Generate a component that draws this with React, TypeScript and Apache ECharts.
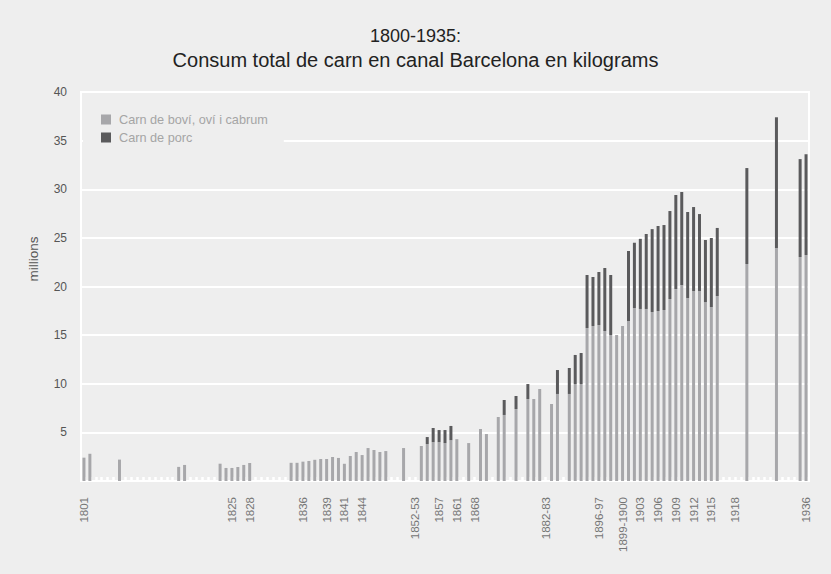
import React, { useEffect, useRef } from "react";
import * as echarts from "echarts";

const N = null;

// One category per bar slot; only some slots carry a label in the original.
const categories: string[] = [
  "1801", "", "", "", "", "", "", "", "", "",
  "", "", "", "", "", "", "", "", "", "",
  "", "", "", "", "", "1825", "", "", "1828", "",
  "", "", "", "", "", "", "", "1836", "", "",
  "", "1839", "", "", "1841", "", "", "1844", "", "",
  "", "", "", "", "", "", "1852-53", "", "", "",
  "1857", "", "", "1861", "", "", "1868", "", "", "",
  "", "", "", "", "", "", "", "", "1882-83", "",
  "", "", "", "", "", "", "", "1896-97", "", "",
  "", "1899-1900", "", "", "1903", "", "", "1906", "", "",
  "1909", "", "", "1912", "", "", "1915", "", "", "",
  "1918", "", "", "", "", "", "", "", "", "",
  "", "", "1936",
];

// Carn de boví, oví i cabrum (millions of kg)
const boviValues: (number | null)[] = [
  2.4, 2.8, N, N, N, N, 2.2, N, N, N,
  N, N, N, N, N, N, 1.45, 1.65, N, N,
  N, N, N, 1.78, 1.34, 1.34, 1.44, 1.65, 1.85, N,
  N, N, N, N, N, 1.87, 1.87, 1.99, 2.06, 2.18,
  2.26, 2.26, 2.47, 2.37, 1.77, 2.57, 2.98, 2.67, 3.39, 3.19,
  2.98, 3.08, N, N, 3.39, N, N, 3.6, 3.8, 4.0,
  4.0, 3.9, 4.2, 4.3, N, 3.9, N, 5.35, 4.83, N,
  6.58, 6.79, N, 7.4, N, 8.43, 8.43, 9.46, N, 7.92,
  8.95, N, 8.95, 9.97, 9.97, 15.73, 15.94, 16.04, 15.42, 15.01,
  15.01, 15.94, 16.45, 17.79, 17.69, 17.69, 17.38, 17.48, 17.58, 18.71,
  19.74, 20.15, 18.82, 19.54, 19.54, 18.4, 17.89, 19.02, N, N,
  N, N, 22.31, N, N, N, N, 23.96, N, N,
  N, 23.03, 23.24,
];

// Carn de porc (millions of kg), stacked on top
const porcValues: (number | null)[] = [
  N, N, N, N, N, N, N, N, N, N,
  N, N, N, N, N, N, N, N, N, N,
  N, N, N, N, N, N, N, N, N, N,
  N, N, N, N, N, N, N, N, N, N,
  N, N, N, N, N, N, N, N, N, N,
  N, N, N, N, N, N, N, N, 0.72, 1.45,
  1.24, 1.34, 1.46, N, N, N, N, N, N, N,
  N, 1.54, N, 1.34, N, 1.54, N, N, N, N,
  2.46, N, 2.67, 2.99, 3.19, 5.45, 5.04, 5.45, 6.48, 6.17,
  N, N, 7.2, 6.71, 7.21, 7.71, 8.52, 8.74, 8.74, 9.05,
  9.67, 9.57, 8.84, 8.63, 7.91, 6.38, 7.1, 7.0, N, N,
  N, N, 9.87, N, N, N, N, 13.44, N, N,
  N, 10.07, 10.36,
];

const seriesNames = ["Carn de boví, oví i cabrum", "Carn de porc"];
const titleLine1 = "1800-1935:";
const titleLine2 = "Consum total de carn en canal Barcelona en kilograms";
const yAxisName = "millions";

const FONT = "'Liberation Sans', Arial, Helvetica, sans-serif";

export default function App() {
  const ref = useRef<HTMLDivElement>(null);

  useEffect(() => {
    if (!ref.current) return;
    const chart = echarts.init(ref.current, undefined, { renderer: "svg" });
    const option: any = {
      animation: false,
      backgroundColor: "#eeeeee",
      textStyle: { fontFamily: FONT },
      title: [
        {
          text: titleLine1,
          left: "center",
          top: 27,
          padding: 0,
          textStyle: { fontSize: 18, fontWeight: "normal", color: "#222222", fontFamily: FONT },
        },
        {
          text: titleLine2,
          left: "center",
          top: 49.5,
          padding: 0,
          textStyle: { fontSize: 20, fontWeight: "normal", color: "#222222", fontFamily: FONT },
        },
      ],
      legend: {
        orient: "vertical",
        left: 83,
        top: 95,
        padding: [18, 16, 8, 18],
        backgroundColor: "#eeeeee",
        itemWidth: 10,
        itemHeight: 10,
        itemGap: 5,
        icon: "rect",
        data: seriesNames,
        textStyle: {
          fontSize: 12.7,
          color: "#a5a5a5",
          lineHeight: 10,
          padding: [0, 0, 0, 3],
          fontFamily: FONT,
        },
      },
      grid: {
        left: 81,
        right: 22,
        top: 92,
        bottom: 93,
        show: true,
        borderColor: "#ffffff",
        borderWidth: 2,
        backgroundColor: "transparent",
      },
      xAxis: {
        type: "category",
        data: categories,
        axisLine: { show: true, lineStyle: { color: "#ffffff", width: 2 } },
        axisTick: {
          show: true,
          inside: true,
          alignWithLabel: true,
          interval: 0,
          length: 4,
          lineStyle: { color: "#ffffff", width: 2.5 },
        },
        axisLabel: {
          interval: 0,
          rotate: 90,
          fontSize: 11.5,
          color: "#757575",
          margin: 16,
          fontFamily: FONT,
        },
        splitLine: { show: false },
      },
      yAxis: {
        type: "value",
        min: 0,
        max: 40,
        interval: 5,
        name: yAxisName,
        nameLocation: "middle",
        nameRotate: 90,
        nameGap: 41,
        nameTextStyle: {
          fontSize: 13.5,
          color: "#555555",
          fontFamily: FONT,
          padding: [0, 0, 0, 55],
        },
        axisLine: { show: true, lineStyle: { color: "#ffffff", width: 2 } },
        axisTick: { show: false },
        splitLine: { show: true, lineStyle: { color: "#ffffff", width: 2 } },
        axisLabel: {
          fontSize: 12,
          color: "#555555",
          margin: 14,
          fontFamily: FONT,
          formatter: (v: number) => (v === 0 ? "" : String(v)),
        },
      },
      series: [
        {
          name: seriesNames[0],
          type: "bar",
          stack: "total",
          barWidth: 3,
          data: boviValues,
          itemStyle: { color: "#a7a7aa" },
        },
        {
          name: seriesNames[1],
          type: "bar",
          stack: "total",
          barWidth: 3,
          data: porcValues,
          itemStyle: { color: "#5a5a5c" },
        },
      ],
    };
    chart.setOption(option);
    return () => chart.dispose();
  }, []);

  return (
    <div
      ref={ref}
      style={{ position: "absolute", left: 0, top: 0, width: 831, height: 574 }}
    />
  );
}
